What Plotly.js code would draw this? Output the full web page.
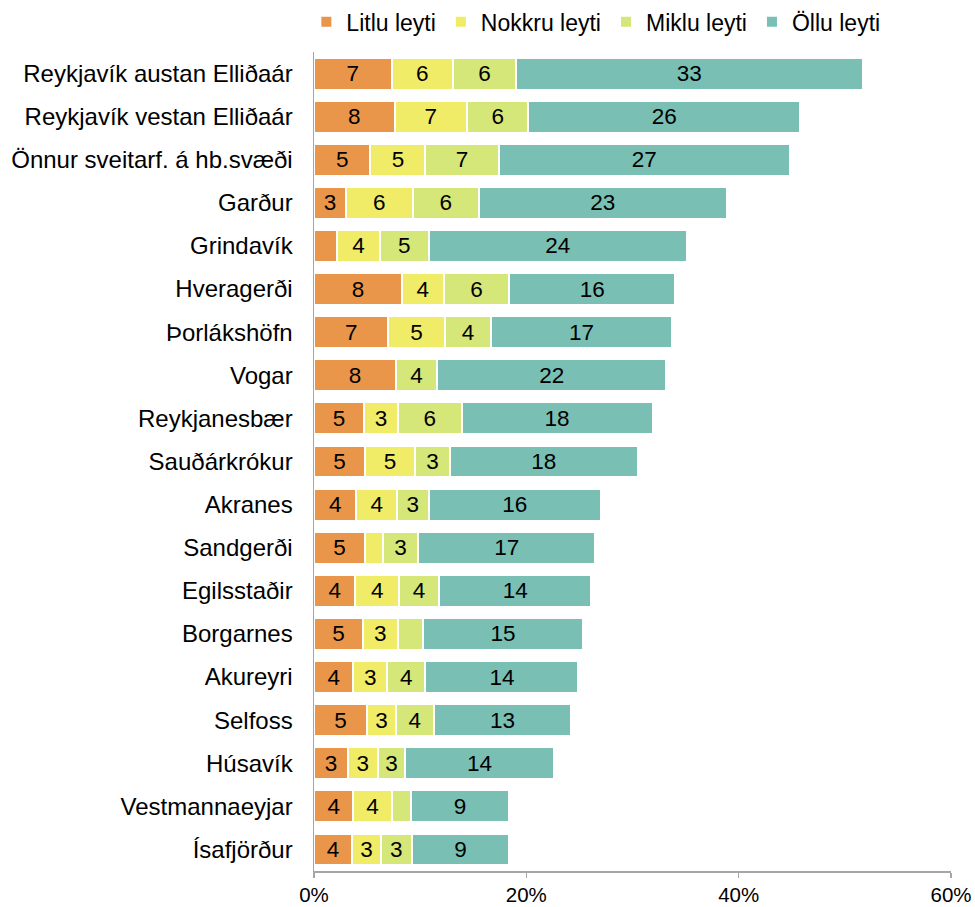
<!DOCTYPE html>
<html>
<head>
<meta charset="utf-8">
<script src="https://cdn.plot.ly/plotly-3.0.1.min.js"></script>
<style>html,body{margin:0;padding:0;background:#fff;}#chart{width:975px;height:907px;}</style>
</head>
<body>
<div id="chart"></div>
<script>
const categories = ["Reykjavík austan Elliðaár","Reykjavík vestan Elliðaár","Önnur sveitarf. á hb.svæði","Garður","Grindavík","Hveragerði","Þorlákshöfn","Vogar","Reykjanesbær","Sauðárkrókur","Akranes","Sandgerði","Egilsstaðir","Borgarnes","Akureyri","Selfoss","Húsavík","Vestmannaeyjar","Ísafjörður"];
const litlu  = [7.3, 7.6, 5.3, 3.0, 2.2, 8.3, 7.0, 7.7, 4.7, 4.8, 4.0, 4.8, 3.9, 4.6, 3.7, 5.0, 3.2, 3.7, 3.6];
const nokkru = [5.8, 6.8, 5.2, 6.3, 4.0, 3.9, 5.3, 0.0, 3.2, 4.7, 3.8, 1.7, 4.1, 3.3, 3.2, 2.7, 2.8, 3.6, 2.7];
const miklu  = [5.9, 5.8, 6.9, 6.2, 4.6, 6.2, 4.4, 3.9, 6.0, 3.3, 3.0, 3.3, 3.8, 2.4, 3.6, 3.6, 2.6, 1.8, 2.9];
const ollu   = [32.7, 25.6, 27.4, 23.4, 24.3, 15.6, 17.0, 21.6, 18.0, 17.7, 16.2, 16.7, 14.3, 15.0, 14.4, 12.9, 14.0, 9.3, 9.2];
const seriesNames = ["Litlu leyti","Nokkru leyti","Miklu leyti","Öllu leyti"];
const seriesColors = ["#E9964A","#F1EC68","#D5E779","#7ABFB4"];
const tickVals = [0, 20, 40, 60];
const tickText = ["0%","20%","40%","60%"];

const FONT = '"Liberation Sans", Arial, sans-serif';
const allSeries = [litlu, nokkru, miklu, ollu];
const traces = allSeries.map((vals, i) => ({
  type: 'bar',
  orientation: 'h',
  name: seriesNames[i],
  y: categories,
  x: vals,
  text: vals.map(v => v >= 2.5 ? String(Math.round(v)) : ''),
  textposition: 'inside',
  insidetextanchor: 'middle',
  textangle: 0,
  constraintext: 'none',
  textfont: {family: FONT, size: 22.5, color: '#000'},
  marker: {color: seriesColors[i], line: {color: '#ffffff', width: 2}},
  hoverinfo: 'none'
}));

const layout = {
  width: 975, height: 907,
  margin: {l: 314, r: 24, t: 52, b: 36, pad: 0, autoexpand: false},
  barmode: 'stack',
  bargap: 0.26,
  showlegend: true,
  font: {family: FONT, color: '#000'},
  paper_bgcolor: '#fff', plot_bgcolor: '#fff',
  legend: {orientation: 'h', x: -0.012, xanchor: 'left', y: 1.037, yanchor: 'middle',
           font: {family: FONT, size: 23, color: '#000'}, traceorder: 'normal', itemclick: false},
  xaxis: {range: [0, 60], tickvals: tickVals, ticktext: tickText, showgrid: false, zeroline: false,
          showline: true, linecolor: '#A6A6A6', linewidth: 1.5, ticks: 'outside', ticklen: 5,
          tickcolor: '#A6A6A6', tickwidth: 1.5, tickfont: {family: FONT, size: 20.5, color: '#000'}, fixedrange: true},
  yaxis: {autorange: 'reversed', showgrid: false, zeroline: false, showline: true, linecolor: '#A6A6A6',
          linewidth: 1.5, ticks: '', ticklabelstandoff: 15, tickfont: {family: FONT, size: 24, color: '#000'}, fixedrange: true}
};

Plotly.newPlot('chart', traces, layout, {displayModeBar: false, staticPlot: true});
</script>
</body>
</html>
